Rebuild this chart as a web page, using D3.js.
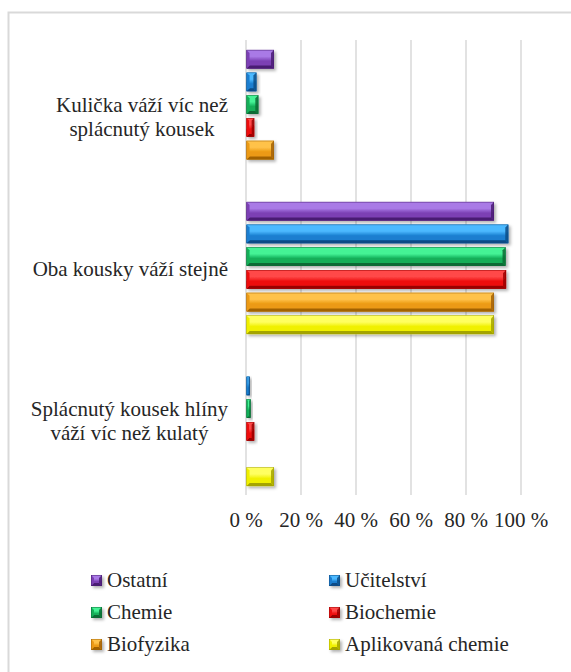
<!DOCTYPE html>
<html>
<head>
<meta charset="utf-8">
<script src="https://cdn.jsdelivr.net/npm/d3@7"></script>
<style>
  body { margin: 0; background: #fff; }
</style>
</head>
<body>
<svg id="chart"></svg>
<script>
// categories (top to bottom) and series values in %
const categories = ["Kulička váží víc než splácnutý kousek", "Oba kousky váží stejně", "Splácnutý kousek hlíny váží víc než kulatý"];
const categoryLines = [["Kulička váží víc než", "splácnutý kousek"], ["Oba kousky váží stejně"], ["Splácnutý kousek hlíny", "váží víc než kulatý"]];
const seriesNames = ["Ostatní", "Učitelství", "Chemie", "Biochemie", "Biofyzika", "Aplikovaná chemie"];
const ostatni = [10, 90, 0];
const ucitelstvi = [3.6, 95.2, 1.2];
const chemie = [4.3, 94.2, 1.5];
const biochemie = [2.8, 94.4, 2.8];
const biofyzika = [10, 90, 0];
const aplikovana = [0, 90, 10];
const xTicks = [0, 20, 40, 60, 80, 100];

const seriesValues = [ostatni, ucitelstvi, chemie, biochemie, biofyzika, aplikovana];
// base, light, dark
const palette = [
  ["#7b3fb4", "#a97ae6", "#4a1d73"],
  ["#1a7ed0", "#4cb9ff", "#0c4c86"],
  ["#12ae58", "#45f295", "#0a6a34"],
  ["#ee1010", "#ff4a4a", "#9a0000"],
  ["#ec9a12", "#ffc24a", "#a26206"],
  ["#f0f000", "#ffff60", "#a4a400"]
];
const FONT = '"Liberation Serif"';
const FS = 21;

const width = 571, height = 672;
const svg = d3.select("#chart").attr("width", width).attr("height", height);
const defs = svg.append("defs");

const shadow = defs.append("filter").attr("id", "shadow")
  .attr("x", "-20%").attr("y", "-30%").attr("width", "160%").attr("height", "180%");
shadow.append("feDropShadow").attr("dx", 2).attr("dy", 2).attr("stdDeviation", 1.5)
  .attr("flood-color", "#000").attr("flood-opacity", 0.3);

palette.forEach((p, i) => {
  const g = defs.append("linearGradient").attr("id", "face" + i)
    .attr("x1", 0).attr("y1", 0).attr("x2", 0).attr("y2", 1);
  g.append("stop").attr("offset", "0%").attr("stop-color", p[1]);
  g.append("stop").attr("offset", "35%").attr("stop-color", p[1]);
  g.append("stop").attr("offset", "60%").attr("stop-color", p[0]);
  g.append("stop").attr("offset", "100%").attr("stop-color", p[0]);
});

// chart frame
svg.append("rect").attr("x", 8.5).attr("y", 12.5).attr("width", 700).attr("height", 700)
  .attr("fill", "none").attr("stroke", "#d9d9d9").attr("stroke-width", 2);

const x = d3.scaleLinear().domain([0, 100]).range([246, 521]);
const y0 = d3.scaleBand().domain(categories).range([40, 496])
  .paddingInner(0.13).paddingOuter(0.065);
const y1 = d3.scaleBand().domain(seriesNames).range([0, y0.bandwidth()]).paddingInner(0.18);

// gridlines
svg.append("g").selectAll("line").data(xTicks).join("line")
  .attr("x1", d => x(d)).attr("x2", d => x(d))
  .attr("y1", 40).attr("y2", 495)
  .attr("stroke", "#d9d9d9").attr("stroke-width", 1.5);

// x tick labels
svg.append("g").selectAll("text").data(xTicks).join("text")
  .attr("x", d => x(d)).attr("y", 527)
  .attr("text-anchor", "middle")
  .style("font-family", FONT).style("font-size", FS + "px").style("fill", "#262626")
  .text(d => d + " %");

// bevelled bar
function bevelBar(g, bx, by, w, h, i) {
  const p = palette[i];
  const b = Math.min(3, w / 3, h / 3);
  const bar = g.append("g").attr("filter", "url(#shadow)");
  bar.append("rect").attr("x", bx).attr("y", by).attr("width", w).attr("height", h)
    .attr("fill", `url(#face${i})`);
  const pts = (a) => a.map(q => q.join(",")).join(" ");
  // top
  bar.append("polygon").attr("points", pts([[bx, by], [bx + w, by], [bx + w - b, by + b], [bx + b, by + b]]))
    .attr("fill", p[1]).attr("opacity", 0.9);
  // bottom
  bar.append("polygon").attr("points", pts([[bx, by + h], [bx + w, by + h], [bx + w - b, by + h - b], [bx + b, by + h - b]]))
    .attr("fill", p[2]);
  // left
  bar.append("polygon").attr("points", pts([[bx, by], [bx + b, by + b], [bx + b, by + h - b], [bx, by + h]]))
    .attr("fill", p[0]);
  // right
  bar.append("polygon").attr("points", pts([[bx + w, by], [bx + w - b, by + b], [bx + w - b, by + h - b], [bx + w, by + h]]))
    .attr("fill", p[2]).attr("opacity", 0.85);
  bar.append("rect").attr("x", bx + 0.25).attr("y", by + 0.25).attr("width", Math.max(0, w - 0.5)).attr("height", h - 0.5)
    .attr("fill", "none").attr("stroke", p[2]).attr("stroke-width", 0.5);
}

const bars = svg.append("g");
categories.forEach((c, ci) => {
  seriesNames.forEach((s, si) => {
    const v = seriesValues[si][ci];
    if (v <= 0) return;
    bevelBar(bars, x(0) + 0.5, y0(c) + y1(s), x(v) - x(0), y1.bandwidth(), si);
  });
});

// category labels, block right-aligned to 228, lines centred
const labels = svg.append("g");
categories.forEach((c, ci) => {
  const lines = categoryLines[ci];
  const cy = y0(c) + y0.bandwidth() / 2;
  const t = labels.append("text").attr("text-anchor", "middle")
    .style("font-family", FONT).style("font-size", FS + "px").style("fill", "#262626");
  lines.forEach((l, li) => {
    t.append("tspan").attr("x", 0).attr("y", cy + 8 + (li - (lines.length - 1) / 2) * 24).text(l);
  });
  let maxW = 0;
  t.selectAll("tspan").each(function () { maxW = Math.max(maxW, this.getComputedTextLength()); });
  t.selectAll("tspan").attr("x", 228 - maxW / 2);
});

// legend
const legendX = [91, 329], legendY = [587, 619, 651];
const legend = svg.append("g");
seriesNames.forEach((s, i) => {
  const lx = legendX[i % 2], ly = legendY[Math.floor(i / 2)];
  bevelBar(legend, lx, ly - 12, 11, 11, i);
  legend.append("text").attr("x", lx + 16).attr("y", ly)
    .style("font-family", FONT).style("font-size", FS + "px").style("fill", "#262626").text(s);
});
</script>
</body>
</html>
